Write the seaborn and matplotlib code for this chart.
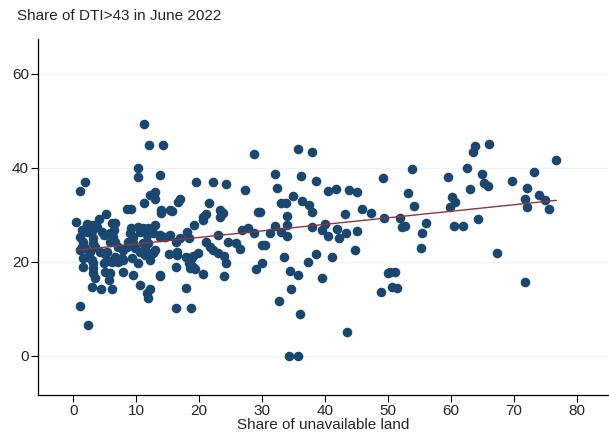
import numpy as np
import pandas as pd
import matplotlib
matplotlib.use("Agg")
import matplotlib.pyplot as plt
import seaborn as sns

# Share of unavailable land (x) and share of DTI>43 loans in June 2022 (y)
unavailable_land = [
    1.9, 1.0, 11.3, 12.1, 14.3, 10.2, 10.2, 13.8, 12.2, 12.9, 12.9, 11.3, 8.6, 9.2,
    5.2, 4.1, 0.5, 14.0, 14.0, 15.4,
    28.7, 19.5, 22.2, 24.3, 27.3, 17.0, 16.7, 21.6, 15.6, 21.0, 20.6, 23.3, 23.8, 23.3, 29.4,
    35.7, 37.9, 32.1, 36.2, 38.6, 49.2, 32.4, 40.5, 41.7, 43.7, 45.1, 34.9, 33.0, 33.8, 36.3,
    37.5, 37.9, 29.7, 34.0, 43.2, 45.9, 47.3, 49.4, 32.1, 31.3, 34.0, 34.0, 33.0, 37.9, 40.0,
    39.5, 40.5, 41.9, 42.2, 43.3, 45.1,
    30.5, 30.0, 30.0, 33.5, 38.6, 41.0, 44.8, 37.3, 34.4, 35.7, 39.5, 34.6, 32.7, 36.0, 43.5,
    34.3, 35.7, 50.0, 48.9,
    53.7, 63.8, 63.5, 66.0, 62.5, 59.5, 64.9, 53.2, 63.0, 65.2, 65.9, 60.2, 60.6, 59.8, 54.1,
    51.9, 52.2, 52.7, 56.0, 55.4, 60.5, 61.9, 64.3,
    55.2, 67.3, 50.3, 51.0, 50.6, 51.4,
    76.7, 73.2, 69.7, 72.1, 74.0, 74.9, 71.7, 72.1, 75.6, 71.7,
    20.6, 19.2, 26.8, 27.8, 28.7, 13.8, 15.4, 14.6, 17.0, 18.1, 18.3, 16.3, 23.0, 21.0, 24.6,
    25.9, 21.7, 22.2, 22.9, 26.5, 15.2, 16.5, 16.5, 17.9, 18.7, 19.0, 19.8, 18.3, 19.0, 19.4,
    18.6, 16.3, 24.0, 24.3, 20.6, 24.0, 29.0, 13.8, 17.9, 16.3, 18.7,
    2.1, 3.2, 1.4, 2.2, 3.0, 3.8, 4.6, 6.2, 6.7, 6.5, 9.2, 10.2, 11.1, 11.9, 12.9,
    1.1, 1.6, 1.4, 3.2, 3.2, 3.5, 4.8, 5.9, 6.3, 5.9, 6.7, 9.0, 9.5, 10.6, 11.7, 12.7, 13.8,
    8.7, 9.5, 11.0, 11.9, 1.0, 1.9, 2.7, 2.2, 4.3, 4.8, 5.4, 7.1, 7.9, 8.6, 9.8, 10.6, 11.4,
    12.5, 13.0, 1.6, 3.0, 3.2, 1.6, 3.2, 3.2, 3.5, 4.8, 5.4, 6.2, 5.1, 5.9, 5.6, 6.7, 7.8,
    7.1, 7.9, 7.9, 9.4, 10.2, 9.5, 10.6, 11.7, 12.2, 11.9, 11.4, 12.2, 12.7, 13.8, 3.0, 4.4,
    6.2, 1.0, 2.4,
]
dti_share = [
    37.0, 35.1, 49.4, 44.9, 44.9, 40.0, 38.1, 38.5, 34.3, 34.9, 33.4, 32.6, 31.3, 31.3,
    30.2, 29.1, 28.5, 31.0, 30.4, 31.0,
    43.0, 37.0, 37.0, 36.6, 35.3, 33.4, 32.8, 32.6, 30.9, 30.2, 29.6, 31.0, 30.4, 29.6, 30.6,
    44.0, 43.4, 38.7, 38.3, 37.2, 37.9, 35.7, 35.1, 35.5, 35.3, 34.9, 34.0, 32.6, 32.6, 33.0,
    32.1, 30.6, 30.6, 29.8, 30.2, 31.3, 30.4, 29.4, 27.7, 26.2, 27.9, 25.5, 26.4, 27.4, 28.1,
    26.8, 25.5, 27.0, 25.1, 26.2, 26.6,
    23.6, 23.6, 19.8, 21.0, 21.7, 21.0, 22.6, 20.0, 18.1, 17.2, 16.6, 14.3, 11.7, 8.9, 5.1,
    0.0, 0.0, 17.7, 13.6,
    39.8, 44.7, 43.4, 45.1, 40.0, 38.1, 38.7, 34.7, 35.5, 36.8, 36.2, 33.8, 32.8, 31.7, 31.9,
    29.4, 27.4, 27.7, 28.3, 26.2, 27.7, 27.7, 29.1,
    23.0, 21.9, 17.9, 17.9, 14.7, 14.5,
    41.7, 39.1, 37.2, 35.7, 34.3, 33.2, 33.4, 31.7, 31.3, 15.7,
    28.9, 27.9, 26.8, 27.2, 26.2, 25.7, 25.7, 25.3, 25.1, 26.4, 25.1, 24.3, 25.7, 24.3, 24.3,
    24.0, 23.2, 22.6, 21.9, 22.8, 21.7, 22.1, 21.5, 21.1, 20.6, 21.3, 21.9, 19.8, 18.9, 18.5,
    18.7, 18.9, 21.3, 19.8, 17.4, 17.0, 18.5, 17.0, 14.5, 10.2, 10.2,
    28.1, 27.9, 26.8, 26.4, 26.6, 27.4, 26.4, 28.3, 28.3, 26.8, 27.2, 27.4, 27.2, 27.2, 27.9,
    25.3, 24.3, 23.2, 25.1, 24.0, 23.2, 25.7, 26.2, 25.3, 24.3, 24.3, 26.2, 25.3, 26.4, 25.7,
    26.2, 25.3, 24.3, 24.0, 24.0, 24.0, 22.6, 23.0, 22.1, 21.1, 22.1, 21.9, 22.1, 23.2, 22.6,
    23.2, 23.0, 22.1, 22.8, 21.9, 22.6, 20.9, 20.4, 19.8, 18.9, 18.7, 17.7, 16.6, 19.8, 20.4,
    20.0, 17.9, 17.7, 16.2, 21.1, 20.9, 20.0, 20.4, 17.9, 20.9, 19.8, 17.2, 15.1, 13.4, 14.3,
    12.3, 21.5, 20.4, 21.9, 17.2, 14.7, 14.3, 14.3, 10.6, 6.6,
]

# Fitted linear trend over the observed range
fit_x = [0.5, 76.7]
fit_y = [22.5, 33.1]

x_ticks = [0, 10, 20, 30, 40, 50, 60, 70, 80]
y_ticks = [0, 20, 40, 60]

df = pd.DataFrame({"land": unavailable_land, "dti": dti_share})
fit = pd.DataFrame({"land": fit_x, "dti": fit_y})

sns.set_theme(style="white")
plt.rcParams["font.family"] = ["Liberation Sans", "DejaVu Sans"]

fig = plt.figure(figsize=(6.09, 4.33), dpi=100)
ax = fig.add_axes([0.0624, 0.0878, 0.936, 0.822])

for yv in y_ticks:
    ax.axhline(yv, color="#eef4f5", lw=1.0, zorder=0)

sns.scatterplot(data=df, x="land", y="dti", ax=ax, color="#1a476f",
                s=48, linewidth=0, alpha=1, zorder=2)
sns.lineplot(data=fit, x="land", y="dti", ax=ax, color="#90353b",
             lw=1.0, zorder=3)

ax.set_xlim(-5.6, 84.9)
ax.set_ylim(-8.3, 67.4)
ax.set_xticks(x_ticks)
ax.set_yticks(y_ticks)
ax.tick_params(axis="both", which="major", direction="out", length=5,
               width=0.8, color="black", labelsize=11, pad=1.5,
               bottom=True, left=True)
for side in ("top", "right"):
    ax.spines[side].set_visible(False)
for side in ("left", "bottom"):
    ax.spines[side].set_color("black")
    ax.spines[side].set_linewidth(0.9)

ax.set_xlabel("Share of unavailable land", fontsize=11, labelpad=0)
ax.set_ylabel("")
fig.text(0.028, 0.964, "Share of DTI>43 in June 2022", fontsize=11,
         ha="left", va="center")

fig.savefig("out.png", dpi=100)
